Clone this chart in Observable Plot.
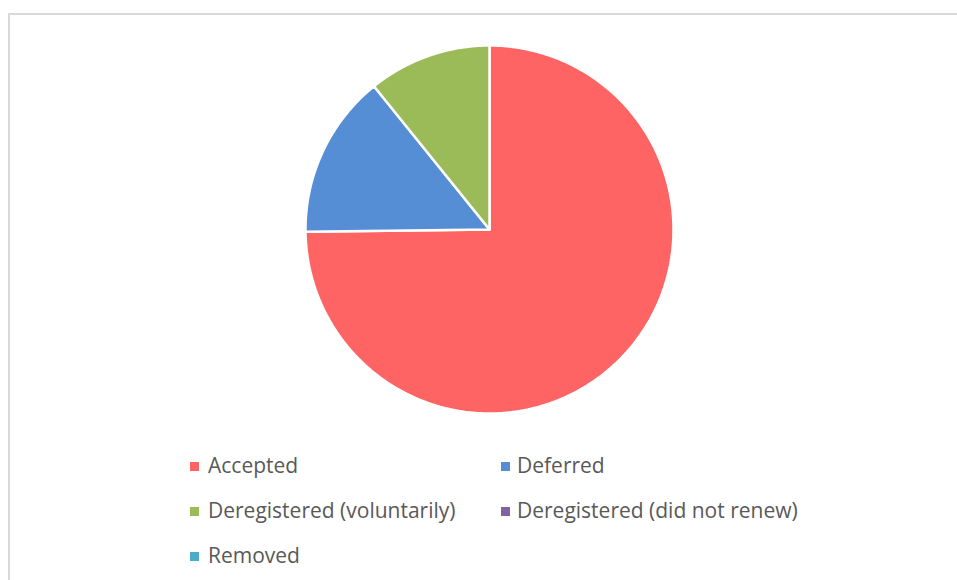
<!DOCTYPE html>
<html><head><meta charset="utf-8">
<script src="https://cdn.jsdelivr.net/npm/d3@7"></script>
<script src="https://cdn.jsdelivr.net/npm/@observablehq/plot@0.6"></script>
<style>
html,body{margin:0;padding:0;background:#fff;}
#wrap{position:relative;width:957px;height:580px;overflow:hidden;font-family:"Segoe UI","Open Sans","Noto Sans",sans-serif;}
#frame{position:absolute;left:8px;top:13px;width:1000px;height:700px;border:2px solid #d9d9d9;box-sizing:border-box;}
#chart{position:absolute;left:0;top:0;}
#legend{position:absolute;left:0;top:0;width:957px;height:580px;}
.item{position:absolute;font-size:21px;color:#595959;line-height:24px;white-space:nowrap;}
.sw{position:absolute;width:9px;height:9px;}
</style></head>
<body><div id="wrap"><div id="frame"></div><div id="chart"></div><div id="legend"></div></div>
<script>
const categories = ["Accepted","Deferred","Deregistered (voluntarily)","Deregistered (did not renew)","Removed"];
const values = [748, 144, 108, 0, 0];
const colors = ["#FF6464","#558ED5","#9BBB59","#8064A2","#4BACC6"];

const pie = d3.pie().sort(null).value(d => d.value).startAngle(0).endAngle(2*Math.PI);
const arcs = pie(categories.map((c,i)=>({name:c,value:values[i]})));
const pts = [];
for (const a of arcs) {
  if (a.endAngle - a.startAngle <= 0) continue;
  const n = Math.max(2, Math.ceil((a.endAngle - a.startAngle) / (2*Math.PI) * 400));
  pts.push({name:a.data.name, x:0, y:0});
  for (let k=0;k<=n;k++){
    const t = a.startAngle + (a.endAngle - a.startAngle)*k/n;
    pts.push({name:a.data.name, x:Math.sin(t), y:Math.cos(t)});
  }
  pts.push({name:a.data.name, x:0, y:0});
}
const plot = Plot.plot({
  width: 957, height: 440,
  marginLeft: 305, marginRight: 284, marginTop: 45, marginBottom: 27,
  x:{domain:[-1,1], axis:null},
  y:{domain:[-1,1], axis:null},
  color:{domain:categories, range:colors},
  style:{background:"transparent", overflow:"visible"},
  marks:[
    Plot.line(pts, {x:"x", y:"y", z:"name", fill:"name", stroke:"#fff", strokeWidth:2.5, strokeLinejoin:"miter", curve:"linear"})
  ]
});
document.getElementById("chart").appendChild(plot);

const pos = [[190,208,466],[501,517,466],[190,208,511],[501,517,511],[190,208,556]];
const lg = document.getElementById("legend");
categories.forEach((c,i)=>{
  const [sx,tx,cy] = pos[i];
  const s = document.createElement("div"); s.className="sw";
  s.style.left=sx+"px"; s.style.top=(cy-4.5)+"px"; s.style.background=colors[i];
  lg.appendChild(s);
  const t = document.createElement("div"); t.className="item"; t.textContent=c;
  t.style.left=tx+"px"; t.style.top=(cy-13)+"px";
  lg.appendChild(t);
});
</script></body></html>
